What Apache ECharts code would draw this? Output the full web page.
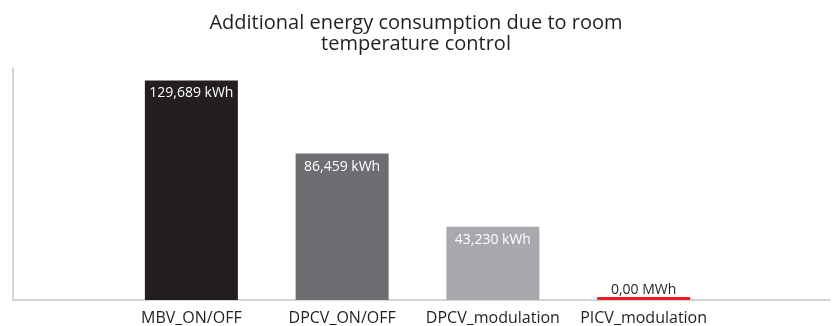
<!DOCTYPE html>
<html>
<head>
<meta charset="utf-8">
<script src="https://cdn.jsdelivr.net/npm/echarts@6/dist/echarts.min.js"></script>
<style>
  html, body { margin: 0; padding: 0; background: #ffffff; }
  #chart { width: 832px; height: 326px; }
</style>
</head>
<body>
<div id="chart"></div>
<script>
// Valve strategies and the extra energy each one uses
const categories = ['MBV_ON/OFF', 'DPCV_ON/OFF', 'DPCV_modulation', 'PICV_modulation'];
const consumptionKWh = [129689, 86459, 43230, 0];
const barColors = ['#231f20', '#6d6e71', '#a7a9ac', '#ed1c24'];

const FONT = '"Open Sans", "Noto Sans", sans-serif';

function formatLabel(v) {
  if (v === 0) return '0,00 MWh';
  return v.toString().replace(/\B(?=(\d{3})+(?!\d))/g, ',') + ' kWh';
}

const chart = echarts.init(document.getElementById('chart'), null, { renderer: 'canvas' });

chart.setOption({
  animation: false,
  backgroundColor: '#ffffff',
  title: {
    text: 'Additional energy consumption due to room\ntemperature control',
    left: 'center',
    top: 8,
    textStyle: {
      fontFamily: FONT,
      fontSize: 20,
      fontWeight: 'normal',
      color: '#231f20',
      lineHeight: 21
    }
  },
  grid: [
    // bars
    { left: 116, width: 603, top: 68, bottom: 26 },
    // frame lines (left and bottom)
    { left: 13, right: 2, top: 68, bottom: 26 }
  ],
  xAxis: [
    {
      type: 'category',
      gridIndex: 0,
      data: categories,
      axisLine: { show: false },
      axisTick: { show: false },
      axisLabel: {
        interval: 0,
        margin: 10,
        fontFamily: FONT,
        fontSize: 16,
        color: '#231f20'
      }
    },
    {
      type: 'value',
      gridIndex: 1,
      min: 0,
      max: 1,
      axisLine: { show: true, lineStyle: { color: '#c8c8c8', width: 1.5 } },
      axisTick: { show: false },
      axisLabel: { show: false },
      splitLine: { show: false }
    }
  ],
  yAxis: [
    {
      type: 'value',
      gridIndex: 0,
      min: 0,
      max: 137000,
      show: false,
      splitLine: { show: false }
    },
    {
      type: 'value',
      gridIndex: 1,
      min: 0,
      max: 1,
      axisLine: { show: true, lineStyle: { color: '#c8c8c8', width: 1.5 } },
      axisTick: { show: false },
      axisLabel: { show: false },
      splitLine: { show: false }
    }
  ],
  series: [
    {
      type: 'bar',
      xAxisIndex: 0,
      yAxisIndex: 0,
      barWidth: 93,
      barMinHeight: 3,
      data: consumptionKWh.map((v, i) => ({
        value: v,
        itemStyle: { color: barColors[i] },
        label: v === 0
          ? { position: 'top', distance: 0, color: '#231f20' }
          : { position: 'insideTop', distance: 6, color: '#ffffff' }
      })),
      label: {
        show: true,
        fontFamily: FONT,
        fontSize: 14,
        formatter: p => formatLabel(p.value)
      }
    }
  ]
});
</script>
</body>
</html>
